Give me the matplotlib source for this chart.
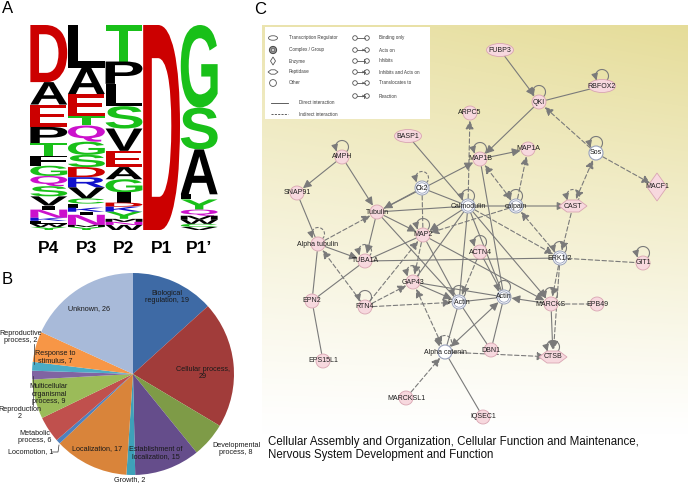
import numpy as np
import matplotlib
matplotlib.use('Agg')
import matplotlib.pyplot as plt
from matplotlib.textpath import TextPath
from matplotlib.patches import PathPatch, Circle, Ellipse, Polygon, Rectangle
from matplotlib.font_manager import FontProperties
from matplotlib.transforms import Affine2D

FONT = 'Liberation Sans'
plt.rcParams['font.family'] = [FONT, 'DejaVu Sans']

# ---------------- Panel A data: sequence logo (top -> bottom, relative heights) ----------
logo_positions = ['P4', 'P3', 'P2', 'P1', 'P1\u2019']
p4_letters = ['D', 'A', 'E', 'P', 'T', 'F', 'G', 'Q', 'S', 'V', 'I', 'N', 'K', 'L', 'W', 'Y']
p4_heights = [28, 11, 11, 8, 6, 5, 5, 5, 5, 4.5, 2, 4, 1.5, 1.5, 1.5, 1.5]
p3_letters = ['L', 'A', 'E', 'T', 'Q', 'G', 'S', 'D', 'R', 'V', 'C', 'F', 'K', 'I', 'N', 'M', 'Y']
p3_heights = [21, 13, 11, 4.5, 8, 6.5, 6, 5, 5, 5.5, 2.5, 2, 2, 1.5, 5, 1, 1.5]
p2_letters = ['T', 'P', 'L', 'S', 'V', 'E', 'A', 'G', 'I', 'D', 'K', 'Y', 'M', 'N', 'W']
p2_heights = [18, 11, 11, 11, 11, 8, 6, 6.5, 5, 2, 2.5, 3.5, 1.5, 1.5, 2.5]
p1_letters = ['D']
p1_heights = [100]
p1p_letters = ['G', 'S', 'A', 'L', 'Y', 'Q', 'M', 'W', 'C', 'V']
p1p_heights = [40.5, 20.5, 22, 2.5, 5, 3, 2, 2, 1.5, 1.5]

# ---------------- Panel B data: pie -----------------------------------------------------
pie_labels = ['Biological regulation', 'Cellular process', 'Developmental process',
              'Establishment of localization', 'Growth', 'Localization', 'Locomotion',
              'Metabolic process', 'Multicellular organismal process', 'Reproduction',
              'Reproductive process', 'Response to stimulus', 'Unknown']
pie_values = [19, 29, 8, 15, 2, 17, 1, 6, 9, 2, 2, 7, 26]
pie_colors = ['#3e6aa5', '#a13c3a', '#7e9b47', '#654d8b', '#3ea1b9', '#d9843a',
              '#4f81bd', '#c0504d', '#9bbb59', '#8064a2', '#4bacc6', '#f79646', '#a8bad9']

# ---------------- Panel C data: network ------------------------------------------------
node_names = ['FUBP3', 'RBFOX2', 'QKI', 'ARPC5', 'BASP1', 'AMPH', 'MAP1B', 'MAP1A', 'Sos',
              'MACF1', 'SNAP91', 'Ck2', 'Tubulin', 'Calmodulin', 'calpain', 'CAST',
              'Alpha tubulin', 'MAP2', 'TUBA1A', 'ACTN4', 'ERK1/2', 'GIT1', 'GAP43', 'EPN2',
              'RTN4', 'F Actin', 'Actin', 'MARCKS', 'EPB49', 'Alpha catenin', 'DBN1', 'CTSB',
              'EPS15L1', 'MARCKSL1', 'IQSEC1']
node_x = [500, 602, 539, 470, 408, 342, 480, 528, 596, 657, 297, 422, 377, 468, 516, 573,
          318, 423, 365, 480, 560, 643, 413, 312, 365, 459, 504, 551, 597, 445, 491, 553,
          323, 406, 483]
node_y = [50, 86, 102, 113, 136, 157, 159, 149, 153, 187, 193, 188, 212, 206, 206, 206,
          244, 235, 261, 252, 258, 263, 282, 301, 307, 302, 297, 304, 304, 352, 350, 357,
          361, 398, 417]
node_kind = ['tr', 'tr', 'p', 'p', 'tr', 'p', 'p', 'p', 'w', 'enz', 'p', 'cx', 'p', 'cx', 'cx',
             'pep', 'p', 'p', 'p', 'p', 'cx', 'p', 'p', 'p', 'p', 'cx', 'cx', 'p', 'p', 'w',
             'p', 'pep', 'p', 'p', 'p']
loop_nodes = ['RBFOX2', 'QKI', 'AMPH', 'MAP1B', 'Sos', 'Ck2', 'Calmodulin', 'calpain', 'CAST',
              'Alpha tubulin', 'MAP2', 'TUBA1A', 'ACTN4', 'ERK1/2', 'GIT1', 'GAP43', 'RTN4',
              'F Actin', 'Actin', 'MARCKS', 'Alpha catenin', 'CTSB']
loop_dashed = [False, False, False, False, False, True, False, False, True,
               True, False, True, False, False, False, True, False,
               False, False, False, True, False]
edges = [('FUBP3', 'QKI', 's>'), ('RBFOX2', 'QKI', 's-'), ('QKI', 'MAP1B', 's>'),
         ('Sos', 'QKI', 'd>'), ('Sos', 'MACF1', 'd>'), ('CAST', 'Sos', 'd<>'),
         ('CAST', 'ERK1/2', 'd>'), ('BASP1', 'Calmodulin', 's-'), ('AMPH', 'SNAP91', 's>'),
         ('AMPH', 'Tubulin', 's>'), ('SNAP91', 'Alpha tubulin', 's-'), ('MAP1B', 'MAP1A', 's>'),
         ('Tubulin', 'MAP1B', 's>'), ('Ck2', 'Tubulin', 's>'), ('Ck2', 'Calmodulin', 's-'),
         ('Ck2', 'MAP2', 'd-'), ('Tubulin', 'Calmodulin', 's-'), ('Calmodulin', 'calpain', 's-'),
         ('calpain', 'CAST', 's>'), ('calpain', 'MAP1A', 'd>'), ('calpain', 'MAP1B', 'd<>'),
         ('Calmodulin', 'ARPC5', 'd>'), ('MAP1B', 'Actin', 's-'), ('Calmodulin', 'MAP2', 's>'),
         ('Calmodulin', 'GAP43', 's-'), ('Calmodulin', 'F Actin', 's-'),
         ('Calmodulin', 'Actin', 's-'), ('Calmodulin', 'MARCKS', 's>'),
         ('Calmodulin', 'ERK1/2', 'd>'), ('ERK1/2', 'calpain', 'd>'), ('calpain', 'MAP2', 'd>'),
         ('Tubulin', 'MAP2', 's>'), ('Tubulin', 'TUBA1A', 's>'), ('Tubulin', 'F Actin', 's-'),
         ('Alpha tubulin', 'Tubulin', 'd>'), ('Alpha tubulin', 'TUBA1A', 's>'),
         ('Alpha tubulin', 'EPN2', 's-'), ('RTN4', 'Alpha tubulin', 'd>'),
         ('MAP2', 'TUBA1A', 's-'), ('MAP2', 'GAP43', 'd>'), ('MAP2', 'F Actin', 's-'),
         ('MAP2', 'MARCKS', 's>'), ('TUBA1A', 'ERK1/2', 's-'), ('EPN2', 'TUBA1A', 's-'),
         ('GAP43', 'Actin', 's-'), ('GAP43', 'F Actin', 's>'), ('RTN4', 'GAP43', 'd>'),
         ('RTN4', 'MAP2', 'd>'), ('RTN4', 'F Actin', 'd>'), ('F Actin', 'Actin', 's-'),
         ('MARCKS', 'Actin', 's>'), ('MARCKS', 'EPB49', 'd-'), ('MARCKS', 'CTSB', 's>'),
         ('ERK1/2', 'CTSB', 'd>'), ('ERK1/2', 'GIT1', 'd-'), ('ACTN4', 'F Actin', 'd>'),
         ('ACTN4', 'Actin', 's-'), ('F Actin', 'Alpha catenin', 's-'),
         ('Actin', 'Alpha catenin', 's<>'), ('F Actin', 'DBN1', 's-'), ('Actin', 'DBN1', 's-'),
         ('Alpha catenin', 'GAP43', 'd<>'), ('Alpha catenin', 'CTSB', 'd>'),
         ('Alpha catenin', 'IQSEC1', 's-'), ('MARCKSL1', 'Alpha catenin', 'd>'),
         ('EPN2', 'EPS15L1', 's-'), ('ERK1/2', 'MARCKS', 'd>')]

legend_left = ['Transcription Regulator', 'Complex / Group', 'Enzyme', 'Peptidase', 'Other']
legend_lines = ['Direct interaction', 'Indirect interaction']
legend_right = ['Binding only', 'Acts on', 'Inhibits', 'Inhibits and Acts on',
                'Translocates to', 'Reaction']
caption = ('Cellular Assembly and Organization, Cellular Function and Maintenance,\n'
           'Nervous System Development and Function')

# ======================================================================================
W, H = 688, 484
fig = plt.figure(figsize=(W / 100, H / 100), dpi=100)

# ---------------- Panel A ----------------
LETTER_COL = {}
for c in 'GSTYC':
    LETTER_COL[c] = '#19c019'
for c in 'QN':
    LETTER_COL[c] = '#cc11cc'
for c in 'KRH':
    LETTER_COL[c] = '#1111cc'
for c in 'DE':
    LETTER_COL[c] = '#cc0000'
for c in 'AVLIPWFM':
    LETTER_COL[c] = '#000000'

fp_bold = FontProperties(family=FONT, weight='bold')
axA = fig.add_axes([30 / W, (H - 230) / H, 188 / W, 205 / H])
columns = [(p4_letters, p4_heights), (p3_letters, p3_heights), (p2_letters, p2_heights),
           (p1_letters, p1_heights), (p1p_letters, p1p_heights)]


def draw_letter(ax, ch, xc, y0, w, h, color):
    tp = TextPath((0, 0), ch, size=1, prop=fp_bold)
    bb = tp.get_extents()
    tr = (Affine2D().translate(-bb.x0, -bb.y0)
          .scale(w / bb.width, h / bb.height).translate(xc - w / 2, y0))
    ax.add_patch(PathPatch(tr.transform_path(tp), fc=color, ec='none', lw=0))


for i, (letters, heights) in enumerate(columns):
    hs = np.array(heights, dtype=float)
    hs = hs / hs.sum() * 100.0
    top = 100.0
    for ch, h in zip(letters, hs):
        w = 0.35 if ch == 'I' else 0.98
        draw_letter(axA, ch, i, top - h, w, h, LETTER_COL[ch])
        top -= h
axA.set_xlim(-0.5, len(columns) - 0.5)
axA.set_ylim(0, 100)
axA.set_xticks(range(len(columns)))
axA.set_xticklabels(logo_positions, fontsize=12.5, fontweight='bold')
axA.tick_params(axis='x', length=0, pad=8)
axA.set_yticks([])
for s in axA.spines.values():
    s.set_visible(False)
axA.patch.set_alpha(0)

# ---------------- Panel B ----------------
axB = fig.add_axes([32 / W, (H - 475) / H, 202 / W, 202 / H])
axB.pie(pie_values, colors=pie_colors, startangle=90, counterclock=False,
        wedgeprops=dict(linewidth=0))
axB.set_xlim(-1, 1)
axB.set_ylim(-1, 1)
axB.set_aspect('equal')
axB.axis('off')

# ---------------- Overlay (pixel coordinates) ----------------
ov = fig.add_axes([0, 0, 1, 1])
ov.patch.set_alpha(0)

# Panel C background gradient
ny, nx = 200, 200
yy = np.linspace(0, 1, ny)[:, None]
xx = np.linspace(0, 1, nx)[None, :]
topc = np.array([0.90, 0.865, 0.60])
amt = np.clip(1 - yy, 0, 1) ** 1.1 * (0.78 + 0.22 * xx)
img = 1 - (1 - topc)[None, None, :] * amt[..., None]
ov.imshow(img, extent=[262, 688, 435, 25], aspect='auto', zorder=0, interpolation='bilinear')
ov.set_xlim(0, W)
ov.set_ylim(H, 0)
ov.axis('off')

# panel letters
ov.text(2, 1, 'A', fontsize=12, va='top', ha='left')
ov.text(2, 272, 'B', fontsize=12, va='top', ha='left')
ov.text(254, 2, 'C', fontsize=12, va='top', ha='left')

# pie labels
PFS = 5.2
pie_text = [('Biological\nregulation, 19', 167, 297, 'center'),
            ('Cellular process,\n29', 203, 373, 'center'),
            ('Developmental\nprocess, 8', 236, 449, 'center'),
            ('Establishment of\nlocalization, 15', 156, 453, 'center'),
            ('Growth, 2', 130, 480, 'center'),
            ('Localization, 17', 97, 449, 'center'),
            ('Locomotion, 1', 31, 452, 'center'),
            ('Metabolic\nprocess, 6', 35, 437, 'center'),
            ('Multicellular\norganismal\nprocess, 9', 49, 394, 'center'),
            ('Reproduction\n2', 20, 413, 'center'),
            ('Reproductive\nprocess, 2', 21, 337, 'center'),
            ('Response to\nstimulus, 7', 55, 357, 'center'),
            ('Unknown, 26', 89, 309, 'center')]
for t, x, y, ha in pie_text:
    ov.text(x, y, t, fontsize=PFS, ha=ha, va='center', linespacing=1.05, color='#1a1a1a',
            zorder=3)
ov.plot([52, 58, 59], [452, 452, 445], color='#333333', lw=0.5)
ov.plot([33, 33], [406, 376], color='#333333', lw=0.5)
ov.plot([34, 34], [344, 364], color='#333333', lw=0.5)

# ---------------- Network ----------------
EC = '#7a7a7a'
PINK_F, PINK_E = '#f7d8de', '#d9a5b2'
WHITE_E = '#97a0bb'
pos = {n: (x, y) for n, x, y in zip(node_names, node_x, node_y)}
kind = dict(zip(node_names, node_kind))


def arrow(p0, p1, style, lw=0.8, shrinkA=5.5, shrinkB=5.5, color=EC, z=2, ms=11):
    ls = '-' if style[0] == 's' else (0, (4, 2.2))
    head = style[1:]
    st = {'-': '-', '>': '-|>', '<>': '<|-|>'}[head]
    if st != '-':
        st += ',head_length=0.45,head_width=0.22'
    ov.annotate('', xy=p1, xytext=p0,
                arrowprops=dict(arrowstyle=st, color=color, lw=lw, linestyle=ls,
                                shrinkA=shrinkA, shrinkB=shrinkB, mutation_scale=ms),
                zorder=z)


for a, b, st in edges:
    arrow(pos[a], pos[b], st)

# self loops
for n, dsh in zip(loop_nodes, loop_dashed):
    x, y = pos[n]
    cx, cy, r = x, y - 10, 6.5
    phi = np.radians(np.linspace(-50, 212, 60))
    px = cx + r * np.cos(phi)
    py = cy - r * np.sin(phi)
    ov.plot(px, py, color=EC, lw=0.8, ls=(0, (3, 1.6)) if dsh else '-', zorder=2)
    arrow((px[-4], py[-4]), (px[-1], py[-1] + 1.0), 's>', shrinkA=0, shrinkB=0, ms=9)

# nodes
for n in node_names:
    x, y = pos[n]
    k = kind[n]
    if k == 'p':
        ov.add_patch(Circle((x, y), 7, fc=PINK_F, ec=PINK_E, lw=0.6, zorder=4))
    elif k == 'tr':
        ov.add_patch(Ellipse((x, y), 27, 13, fc=PINK_F, ec=PINK_E, lw=0.6, zorder=4))
    elif k == 'cx':
        ov.add_patch(Circle((x, y), 7, fc='white', ec=WHITE_E, lw=0.7, zorder=4))
        ov.add_patch(Circle((x, y), 5.2, fc='white', ec=WHITE_E, lw=0.6, zorder=4))
    elif k == 'w':
        ov.add_patch(Circle((x, y), 7, fc='white', ec=WHITE_E, lw=0.8, zorder=4))
    elif k == 'enz':
        ov.add_patch(Polygon([(x, y - 14), (x + 10, y), (x, y + 14), (x - 10, y)],
                             closed=True, fc=PINK_F, ec=PINK_E, lw=0.6, zorder=4))
    elif k == 'pep':
        ov.add_patch(Polygon([(x - 14, y), (x - 6, y - 6), (x + 6, y - 6), (x + 14, y),
                              (x + 6, y + 6), (x - 6, y + 6)],
                             closed=True, fc=PINK_F, ec=PINK_E, lw=0.6, zorder=4))
    ov.text(x, y, n, fontsize=5, ha='center', va='center', color='#1e1e1e', zorder=5)

# legend
ov.add_patch(Rectangle((265, 27), 165, 92, fc='white', ec='none', zorder=6))
LFS = 3.3
LC = '#3a3a3a'
rows_y = [38, 50, 61, 72, 83]
ix = 273
ov.add_patch(Ellipse((ix, rows_y[0]), 9, 4.5, fc='white', ec='#555555', lw=0.6, zorder=7))
ov.add_patch(Circle((ix, rows_y[1]), 3.6, fc='#9a9a9a', ec='#444444', lw=0.7, zorder=7))
ov.add_patch(Circle((ix, rows_y[1]), 1.8, fc='#cfcfcf', ec='#444444', lw=0.4, zorder=7))
ov.add_patch(Polygon([(ix, rows_y[2] - 4), (ix + 2.5, rows_y[2]), (ix, rows_y[2] + 4),
                      (ix - 2.5, rows_y[2])], closed=True, fc='white', ec='#555555', lw=0.6,
                     zorder=7))
ov.add_patch(Polygon([(ix - 5, rows_y[3]), (ix - 2, rows_y[3] - 2.2), (ix + 2, rows_y[3] - 2.2),
                      (ix + 5, rows_y[3]), (ix + 2, rows_y[3] + 2.2), (ix - 2, rows_y[3] + 2.2)],
                     closed=True, fc='white', ec='#555555', lw=0.6, zorder=7))
ov.add_patch(Circle((ix, rows_y[4]), 3.4, fc='white', ec='#555555', lw=0.6, zorder=7))
for t, y in zip(legend_left, rows_y):
    ov.text(289, y, t, fontsize=LFS, ha='left', va='center', color=LC, zorder=8)
ov.plot([271, 288], [103, 103], color='#444444', lw=0.6, zorder=7)
ov.plot([271, 288], [114, 114], color='#444444', lw=0.6, ls=(0, (2.5, 1.5)), zorder=7)
ov.text(299, 103, legend_lines[0], fontsize=LFS, ha='left', va='center', color=LC, zorder=8)
ov.text(299, 114, legend_lines[1], fontsize=LFS, ha='left', va='center', color=LC, zorder=8)
rows_r = [38, 50, 61, 72, 83, 96]
for j, (t, y) in enumerate(zip(legend_right, rows_r)):
    ov.add_patch(Circle((355, y), 2.3, fc='white', ec='#555555', lw=0.6, zorder=7))
    ov.add_patch(Circle((367, y), 2.3, fc='white', ec='#555555', lw=0.6, zorder=7))
    ov.plot([357.3, 364.7], [y, y], color='#555555', lw=0.6, zorder=7)
    if j in (1, 3, 4, 5):
        ov.add_patch(Polygon([(364.6, y), (362.4, y - 1.4), (362.4, y + 1.4)], closed=True,
                             fc='#555555', ec='none', zorder=8))
    if j in (2, 3, 5):
        ov.plot([364.2, 364.2], [y - 1.6, y + 1.6], color='#555555', lw=0.6, zorder=8)
    ov.text(379, y, t, fontsize=LFS, ha='left', va='center', color=LC, zorder=8)

# caption
ov.text(268, 448.5, caption, fontsize=8.3, ha='left', va='center', linespacing=1.15,
        color='#111111')

fig.savefig('out.png', dpi=100)
